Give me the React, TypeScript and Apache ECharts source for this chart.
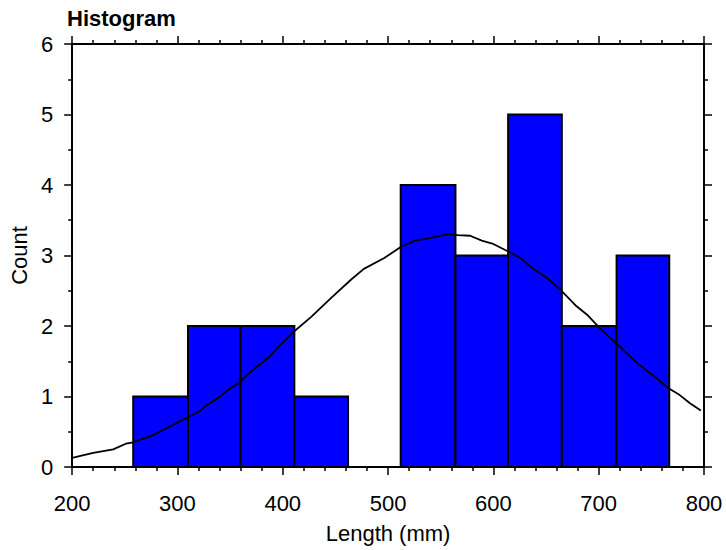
import React, { useEffect, useRef } from "react";
import * as echarts from "echarts";

const binEdges = [258, 310, 360, 411, 462, 512, 564, 614, 665, 717, 767];
const counts = [1, 2, 2, 1, 0, 4, 3, 5, 2, 3];

const curveX = [200, 220, 239, 251, 258, 278, 295, 310, 321, 327, 337, 348, 360, 368, 387, 397, 409, 427, 446, 465, 477, 496, 512, 525, 537, 556, 566, 578, 589, 599, 615, 626, 638, 651, 664, 679, 689, 701, 708, 717, 736, 755, 766, 777, 787, 797];
const curveY = [0.13, 0.2, 0.25, 0.33, 0.35, 0.46, 0.59, 0.71, 0.79, 0.87, 0.96, 1.09, 1.21, 1.33, 1.56, 1.72, 1.9, 2.13, 2.4, 2.66, 2.81, 2.96, 3.12, 3.21, 3.24, 3.3, 3.29, 3.28, 3.21, 3.17, 3.05, 2.96, 2.81, 2.68, 2.51, 2.28, 2.16, 1.97, 1.87, 1.75, 1.48, 1.26, 1.12, 1.02, 0.9, 0.8];

const xTicks = { min: 200, max: 800, interval: 100 };
const yTicks = { min: 0, max: 6, interval: 1 };

const FONT = "'Liberation Sans', Arial, Helvetica, sans-serif";

export default function App() {
  const ref = useRef<HTMLDivElement>(null);
  useEffect(() => {
    if (!ref.current) return;
    const chart = echarts.init(ref.current, undefined, { renderer: "svg" });
    const tickStyle = { color: "#000", width: 1.5 };
    const baseX = {
      type: "value",
      min: xTicks.min,
      max: xTicks.max,
      interval: xTicks.interval,
      axisLine: { show: true, onZero: false, lineStyle: { color: "#000", width: 2 } },
      axisTick: { show: true, inside: false, length: 8, lineStyle: tickStyle },
      minorTick: { show: true, splitNumber: 5, length: 4, lineStyle: tickStyle },
      splitLine: { show: false },
      minorSplitLine: { show: false },
    };
    const baseY = {
      type: "value",
      min: yTicks.min,
      max: yTicks.max,
      interval: yTicks.interval,
      axisLine: { show: true, onZero: false, lineStyle: { color: "#000", width: 2 } },
      axisTick: { show: true, inside: false, length: 8, lineStyle: tickStyle },
      minorTick: { show: true, splitNumber: 2, length: 4, lineStyle: tickStyle },
      splitLine: { show: false },
      minorSplitLine: { show: false },
    };
    chart.setOption({
      animation: false,
      backgroundColor: "#fff",
      title: {
        text: "Histogram",
        left: 62,
        top: 2,
        textStyle: { fontFamily: FONT, fontSize: 22, fontWeight: "bold", color: "#000" },
      },
      grid: { left: 71, right: 22, top: 44, bottom: 83, containLabel: false },
      xAxis: [
        {
          ...baseX,
          position: "bottom",
          name: "Length (mm)",
          nameLocation: "middle",
          nameGap: 55,
          nameTextStyle: { fontFamily: FONT, fontSize: 22, color: "#000" },
          axisLabel: { show: true, margin: 25, fontFamily: FONT, fontSize: 22, color: "#000" },
        },
        { ...baseX, position: "top", axisLabel: { show: false } },
      ],
      yAxis: [
        {
          ...baseY,
          position: "left",
          name: "Count",
          nameLocation: "middle",
          nameGap: 37,
          nameTextStyle: { fontFamily: FONT, fontSize: 22, color: "#000" },
          axisLabel: { show: true, margin: 19, fontFamily: FONT, fontSize: 22, color: "#000" },
        },
        { ...baseY, position: "right", axisLabel: { show: false } },
      ],
      series: [
        {
          type: "custom",
          xAxisIndex: 0,
          yAxisIndex: 0,
          encode: { x: [0, 1], y: 2 },
          data: counts.map((c, i) => [binEdges[i], binEdges[i + 1], c]),
          renderItem: (params: any, api: any) => {
            const c = api.value(2);
            if (!c) return null;
            const p0 = api.coord([api.value(0), c]);
            const p1 = api.coord([api.value(1), 0]);
            return {
              type: "rect",
              shape: { x: p0[0], y: p0[1], width: p1[0] - p0[0], height: p1[1] - p0[1] },
              style: { fill: "#0000ff", stroke: "#000", lineWidth: 2 },
            };
          },
          z: 2,
        },
        {
          type: "line",
          xAxisIndex: 0,
          yAxisIndex: 0,
          data: curveX.map((x, i) => [x, curveY[i]]),
          showSymbol: false,
          symbol: "none",
          lineStyle: { color: "#000", width: 1.8 },
          z: 3,
        },
      ],
    });
    return () => chart.dispose();
  }, []);
  return (
    <div
      ref={ref}
      style={{ position: "fixed", left: 0, top: 0, width: 726, height: 550, background: "#fff" }}
    />
  );
}
